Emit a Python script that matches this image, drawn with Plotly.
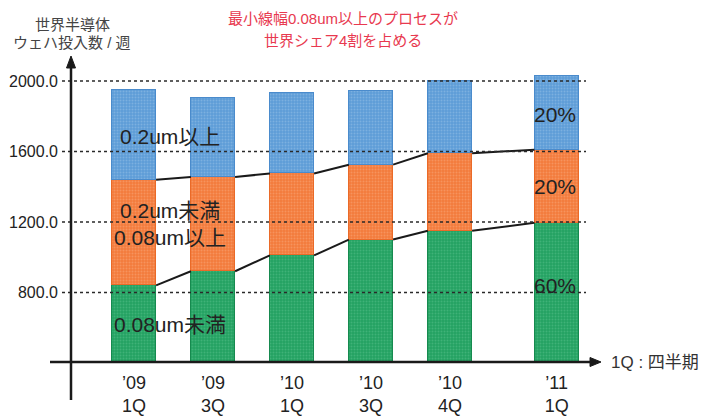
import plotly.graph_objects as go

# ---- data ----
categories = ["’09<br>1Q", "’09<br>3Q", "’10<br>1Q", "’10<br>3Q", "’10<br>4Q", "’11<br>1Q"]
x_pos = [0, 1, 2, 3, 4, 5.35]
below_008 = [840, 920, 1010, 1100, 1150, 1195]      # 0.08um未満
between = [600, 535, 465, 425, 440, 415]            # 0.08um以上 0.2um未満
above_02 = [510, 450, 455, 420, 410, 420]           # 0.2um以上
y_ticks = [800, 1200, 1600, 2000]
y_ticklabels = ["800.0", "1200.0", "1600.0", "2000.0"]
share_labels = ["60%", "20%", "20%"]

# ---- layout geometry (pixels) ----
W, H = 710, 416
L, R, T, B = 71, 600, 57, 362
BAR_W = 0.56
FONT = "Liberation Sans, Arial, Noto Sans CJK JP, sans-serif"


def pxx(x):
    return (x - L) / (R - L)


def pxy(y):
    return (B - y) / (B - T)


fig = go.Figure()

series = [
    ("0.08um未満", below_008, "#23a162", "#168a4f", "#5cc48e"),
    ("0.08um以上", between, "#f37b3c", "#ea6a28", "#f9ab7f"),
    ("0.2um以上", above_02, "#5d9cd6", "#4a8bcc", "#9cc4ea"),
]
for name, vals, col, edge, dot in series:
    fig.add_trace(go.Bar(
        x=x_pos, y=vals, name=name, width=BAR_W,
        marker=dict(color=col, line=dict(color=edge, width=1.5),
                    pattern=dict(shape=".", fgcolor=dot, size=3, solidity=0.35)),
        showlegend=False, hoverinfo="skip",
    ))

# connecting lines between bar edges
b1 = below_008
b2 = [a + b for a, b in zip(below_008, between)]
for bound in (b1, b2):
    lx, ly = [], []
    for i in range(len(x_pos) - 1):
        lx += [x_pos[i] + BAR_W / 2, x_pos[i + 1] - BAR_W / 2, None]
        ly += [bound[i], bound[i + 1], None]
    fig.add_trace(go.Scatter(x=lx, y=ly, mode="lines", line=dict(color="#1a1a1a", width=2),
                             showlegend=False, hoverinfo="skip", cliponaxis=False))

shapes = []
# dashed gridlines
for v in y_ticks:
    shapes.append(dict(type="line", xref="paper", yref="y", x0=pxx(62), x1=pxx(586), y0=v, y1=v,
                       line=dict(color="#2a2a2a", width=1.5, dash="3px,3px"), layer="above"))
# y axis line with arrow
shapes.append(dict(type="line", xref="paper", yref="paper", x0=pxx(71), x1=pxx(71), y0=pxy(400), y1=pxy(64),
                   line=dict(color="#1a1a1a", width=2.5)))
shapes.append(dict(type="path", xref="paper", yref="paper",
                   path=f"M {pxx(66.5)} {pxy(68)} L {pxx(75.5)} {pxy(68)} L {pxx(71)} {pxy(56)} Z",
                   fillcolor="#1a1a1a", line=dict(color="#1a1a1a", width=1)))
# x axis line with arrow
shapes.append(dict(type="line", xref="paper", yref="paper", x0=pxx(50), x1=pxx(592), y0=pxy(362), y1=pxy(362),
                   line=dict(color="#1a1a1a", width=2.5)))
shapes.append(dict(type="path", xref="paper", yref="paper",
                   path=f"M {pxx(590)} {pxy(357.5)} L {pxx(590)} {pxy(366.5)} L {pxx(601)} {pxy(362)} Z",
                   fillcolor="#1a1a1a", line=dict(color="#1a1a1a", width=1)))

annotations = []


def ann(text, x, y, size, color="#222222", xanchor="center"):
    annotations.append(dict(text=text, x=pxx(x), y=pxy(y), xref="paper", yref="paper",
                            showarrow=False, xanchor=xanchor, yanchor="middle",
                            font=dict(size=size, color=color, family=FONT)))


ann("0.2um以上", 118, 136, 21, xanchor="left")
ann("0.2um未満", 118, 211, 21, xanchor="left")
ann("0.08um以上", 112, 237, 21, xanchor="left")
ann("0.08um未満", 112, 324, 21, xanchor="left")
ann(share_labels[2], 555, 114, 21)
ann(share_labels[1], 555, 186, 21)
ann(share_labels[0], 555, 285, 21)
ann("最小線幅0.08um以上のプロセスが", 343, 18, 15, color="#e8394f")
ann("世界シェア4割を占める", 343, 40, 15, color="#e8394f")
ann("世界半導体", 72, 25, 15, color="#444444")
ann("ウェハ投入数 / 週", 72, 43, 15, color="#444444")
ann("1Q : 四半期", 609, 362, 17, color="#333333", xanchor="left")

fig.update_layout(
    width=W, height=H,
    margin=dict(l=L, r=W - R, t=T, b=H - B, autoexpand=False),
    barmode="stack",
    bargap=0,
    plot_bgcolor="white", paper_bgcolor="white",
    font=dict(family=FONT, color="#222222"),
    shapes=shapes, annotations=annotations,
    xaxis=dict(range=[-0.797, 5.899], tickvals=x_pos, ticktext=categories, showgrid=False,
               zeroline=False, showline=False, ticks="", ticklabelstandoff=8, automargin=False,
               tickfont=dict(size=18, color="#222222"), fixedrange=True),
    yaxis=dict(range=[405, 2136], tickvals=y_ticks, ticktext=y_ticklabels, showgrid=False,
               zeroline=False, showline=False, ticks="", ticklabelstandoff=12, automargin=False,
               tickfont=dict(size=16, color="#222222"), fixedrange=True),
)

fig.write_html("out.html")
